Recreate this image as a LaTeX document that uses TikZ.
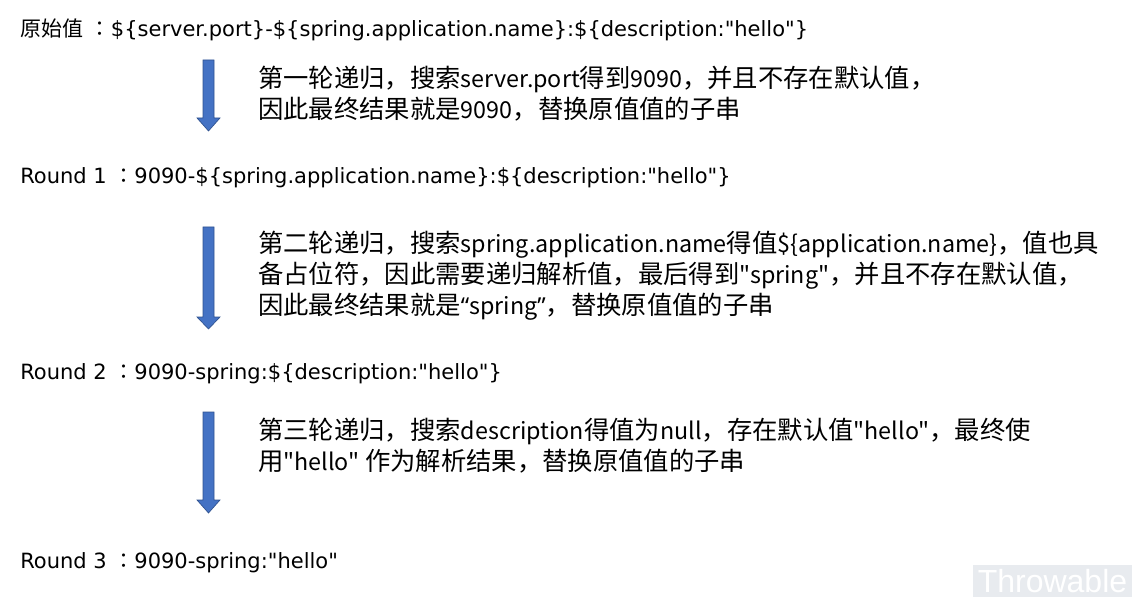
\documentclass[tikz,border=0pt]{standalone}
\usepackage{fontspec}
\newfontfamily\cjkfont{Noto Sans CJK SC}
\newfontfamily\smalllatin{Noto Sans CJK SC}[Scale=0.92]
\newfontfamily\quotefont{Noto Sans}[Scale=0.92]
\newfontfamily\colonfont{Noto Sans CJK TC}
\newfontfamily\latinfont{DejaVu Sans}
\newfontfamily\markfont{Liberation Sans}
\usepackage{xcolor}
\usepackage{tikz}
\definecolor{arrowblue}{RGB}{68,114,196}
\definecolor{arrowedge}{RGB}{47,82,143}
\definecolor{markgray}{RGB}{232,235,239}
\newcommand{\cn}[1]{{\cjkfont #1}}
\newcommand{\lt}[1]{{\smalllatin #1}}
\newcommand{\wcolon}{\ {\colonfont ：}}
\tikzset{
  roundtext/.style={anchor=west, inner sep=0pt, font=\latinfont\fontsize{15.75}{18}\selectfont},
  desctext/.style={anchor=west, inner sep=0pt, align=left, font=\cjkfont\fontsize{19}{23.25}\selectfont},
  blockarrow/.style={fill=arrowblue, draw=arrowedge, line width=0.5pt}
}
\begin{document}
\begin{tikzpicture}[x=0.75pt, y=-0.75pt]
    \useasboundingbox (0,0) rectangle (1132,599);
    % Rounds
    \node[roundtext] (orig) at (20,30) {\cn{原始值}\wcolon\$\{server.port\}-\$\{spring.application.name\}:\$\{description:"hello"\}};
    \node[roundtext] (round1) at (20,178) {Round 1\wcolon 9090-\$\{spring.application.name\}:\$\{description:"hello"\}};
    \node[roundtext] (round2) at (20,374) {Round 2\wcolon 9090-spring:\$\{description:"hello"\}};
    \node[roundtext] (round3) at (20,563) {Round 3\wcolon 9090-spring:"hello"};
    % Explanations
    \node[desctext] (step1) at (258,93.5) {第一轮递归，搜索\lt{server.port}得到\lt{9090}，并且不存在默认值，\\因此最终结果就是\lt{9090}，替换原值值的子串};
    \node[desctext] (step2) at (258,276) {第二轮递归，搜索\lt{spring.application.name}得值\lt{\$\{application.name\}}，值也具\\备占位符，因此需要递归解析值，最后得到\lt{"spring"}，并且不存在默认值，\\因此最终结果就是{\quotefont “}\lt{spring}{\quotefont ”}，替换原值值的子串};
    \node[desctext] (step3) at (258,446) {第三轮递归，搜索\lt{description}得值为\lt{null}，存在默认值\lt{"hello"}，最终使\\用\lt{"hello"} 作为解析结果，替换原值值的子串};
    % Arrows
    \foreach \top/\head/\tip in {60/118/131, 227/317/329, 412/500/513}
      \draw[blockarrow] (203,\top) -- (214,\top) -- (214,\head) -- (220,\head) -- (208.5,\tip)
        -- (197,\head) -- (203,\head) -- cycle;
    % Watermark
    \fill[markgray] (973,565) rectangle (1132,597);
    \node[white, inner sep=0pt, font=\markfont\fontsize{24}{26}\selectfont] (mark) at (1052.5,581) {Throwable};
\end{tikzpicture}
\end{document}
